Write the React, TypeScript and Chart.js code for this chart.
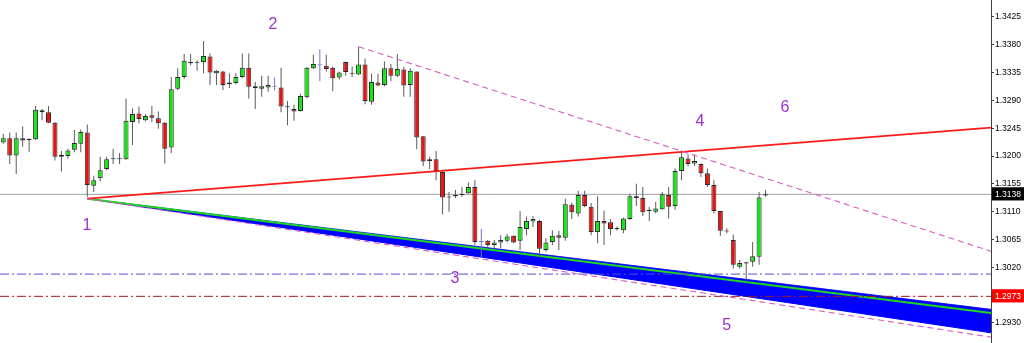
import React, { useEffect, useRef } from "react";
import { Chart, registerables } from "chart.js";

Chart.register(...registerables);

// Bar prices, oldest first
const opens = [
  1.3222, 1.3229, 1.3201, 1.3229, 1.3226, 1.3227, 1.3274, 1.3271, 1.3254, 1.3199,
  1.3200, 1.3210, 1.3220, 1.3238, 1.3152, 1.3164, 1.3179, 1.3195, 1.3195, 1.3195,
  1.3255, 1.3269, 1.3258, 1.3266, 1.3261, 1.3254, 1.3214, 1.3309, 1.3328, 1.3350,
  1.3351, 1.3352, 1.3361, 1.3334, 1.3337, 1.3316, 1.3318, 1.3328, 1.3343, 1.3313,
  1.3309, 1.3311, 1.3312, 1.3311, 1.3279, 1.3276, 1.3273, 1.3295, 1.3342, 1.3347,
  1.3346, 1.3343, 1.3327, 1.3352, 1.3333, 1.3332, 1.3348, 1.3288, 1.3319, 1.3315,
  1.3342, 1.3330, 1.3340, 1.3315, 1.3337, 1.3232, 1.3192, 1.3195, 1.3174, 1.3133,
  1.3135, 1.3137, 1.3140, 1.3150, 1.3061, 1.3063, 1.3056, 1.3060, 1.3063, 1.3071,
  1.3063, 1.3082, 1.3094, 1.3095, 1.3048, 1.3061, 1.3072, 1.3068, 1.3121, 1.3107,
  1.3137, 1.3118, 1.3077, 1.3095, 1.3093, 1.3082, 1.3080, 1.3098, 1.3135, 1.3132,
  1.3111, 1.3110, 1.3114, 1.3137, 1.3119, 1.3176, 1.3196, 1.3188, 1.3187, 1.3172,
  1.3153, 1.3111, 1.3078, 1.3064, 1.3021, 1.3026, 1.3029, 1.3037, 1.3136,
];
const highs = [
  1.3236, 1.3238, 1.3238, 1.3248, 1.3229, 1.3281, 1.3276, 1.3281, 1.3255, 1.3208,
  1.3212, 1.3242, 1.3243, 1.3251, 1.3168, 1.3199, 1.3199, 1.3212, 1.3205, 1.3293,
  1.3277, 1.3280, 1.3268, 1.3281, 1.3272, 1.3255, 1.3328, 1.3342, 1.3365, 1.3365,
  1.3355, 1.3386, 1.3366, 1.3339, 1.3338, 1.3334, 1.3334, 1.3366, 1.3366, 1.3320,
  1.3330, 1.3330, 1.3327, 1.3343, 1.3289, 1.3283, 1.3301, 1.3344, 1.3364, 1.3373,
  1.3364, 1.3345, 1.3337, 1.3353, 1.3345, 1.3377, 1.3358, 1.3333, 1.3333, 1.3353,
  1.3349, 1.3365, 1.3344, 1.3342, 1.3337, 1.3232, 1.3199, 1.3208, 1.3175, 1.3142,
  1.3145, 1.3150, 1.3157, 1.3161, 1.3082, 1.3064, 1.3064, 1.3072, 1.3074, 1.3072,
  1.3111, 1.3102, 1.3103, 1.3097, 1.3067, 1.3080, 1.3079, 1.3131, 1.3125, 1.3144,
  1.3144, 1.3124, 1.3135, 1.3112, 1.3098, 1.3086, 1.3100, 1.3139, 1.3155, 1.3150,
  1.3118, 1.3126, 1.3142, 1.3150, 1.3180, 1.3209, 1.3203, 1.3202, 1.3188, 1.3180,
  1.3161, 1.3111, 1.3083, 1.3073, 1.3032, 1.3029, 1.3061, 1.3142, 1.3145,
];
const lows = [
  1.3220, 1.3187, 1.3171, 1.3215, 1.3207, 1.3226, 1.3258, 1.3253, 1.3193, 1.3175,
  1.3196, 1.3206, 1.3206, 1.3134, 1.3142, 1.3159, 1.3177, 1.3187, 1.3187, 1.3194,
  1.3218, 1.3253, 1.3256, 1.3255, 1.3244, 1.3188, 1.3205, 1.3307, 1.3325, 1.3347,
  1.3338, 1.3334, 1.3315, 1.3315, 1.3307, 1.3310, 1.3316, 1.3326, 1.3293, 1.3276,
  1.3296, 1.3304, 1.3306, 1.3271, 1.3250, 1.3257, 1.3272, 1.3293, 1.3341, 1.3321,
  1.3337, 1.3305, 1.3324, 1.3330, 1.3328, 1.3331, 1.3284, 1.3283, 1.3313, 1.3313,
  1.3321, 1.3328, 1.3296, 1.3296, 1.3211, 1.3184, 1.3179, 1.3161, 1.3106, 1.3110,
  1.3132, 1.3134, 1.3139, 1.3056, 1.3035, 1.3051, 1.3050, 1.3051, 1.3060, 1.3059,
  1.3048, 1.3072, 1.3085, 1.3038, 1.3045, 1.3056, 1.3048, 1.3063, 1.3098, 1.3102,
  1.3117, 1.3072, 1.3059, 1.3056, 1.3072, 1.3079, 1.3075, 1.3097, 1.3119, 1.3103,
  1.3095, 1.3107, 1.3113, 1.3099, 1.3113, 1.3161, 1.3183, 1.3184, 1.3166, 1.3150,
  1.3107, 1.3071, 1.3075, 1.3018, 1.3018, 1.2996, 1.3021, 1.3024, 1.3134,
];
const closes = [
  1.3229, 1.3201, 1.3229, 1.3225, 1.3227, 1.3275, 1.3271, 1.3254, 1.3199, 1.3202,
  1.3209, 1.3221, 1.3239, 1.3153, 1.3161, 1.3177, 1.3195, 1.3196, 1.3196, 1.3257,
  1.3268, 1.3260, 1.3265, 1.3262, 1.3253, 1.3212, 1.3308, 1.3328, 1.3354, 1.3352,
  1.3352, 1.3362, 1.3335, 1.3338, 1.3315, 1.3319, 1.3328, 1.3343, 1.3312, 1.3310,
  1.3313, 1.3315, 1.3312, 1.3280, 1.3280, 1.3272, 1.3297, 1.3343, 1.3349, 1.3347,
  1.3341, 1.3326, 1.3335, 1.3336, 1.3334, 1.3348, 1.3289, 1.3320, 1.3314, 1.3342,
  1.3330, 1.3341, 1.3314, 1.3338, 1.3230, 1.3191, 1.3195, 1.3176, 1.3133, 1.3134,
  1.3137, 1.3139, 1.3150, 1.3061, 1.3061, 1.3056, 1.3060, 1.3064, 1.3070, 1.3060,
  1.3085, 1.3095, 1.3098, 1.3050, 1.3060, 1.3071, 1.3068, 1.3122, 1.3109, 1.3137,
  1.3119, 1.3077, 1.3095, 1.3091, 1.3082, 1.3083, 1.3099, 1.3135, 1.3132, 1.3109,
  1.3113, 1.3115, 1.3138, 1.3118, 1.3176, 1.3198, 1.3187, 1.3192, 1.3172, 1.3153,
  1.3111, 1.3079, 1.3079, 1.3024, 1.3027, 1.3028, 1.3038, 1.3133, 1.3138,
];

// Right-hand price scale
const priceTicks = [
  1.293, 1.2973, 1.302, 1.3065, 1.311, 1.3138, 1.3155, 1.32, 1.3245, 1.329,
  1.3335, 1.338, 1.3425,
];
const lastPrice = 1.3138;
const stopPrice = 1.2973;
const supportPrice = 1.3009;

// Visible window
const yMin = 1.28975;
const yMax = 1.34525;
const xMin = -0.51;
const xMax = 152.9;

// Wave count marks
const waveNames = ["1", "2", "3", "4", "5", "6"];
const waveBars = [12.96, 41.75, 69.9, 107.85, 112.0, 121.0];
const wavePrices = [1.3087, 1.3412, 1.3001, 1.3255, 1.2925, 1.3278];

// Trend line anchors (bar index / price)
const pivotBar = 13;
const pivotPrice = 1.3131;
const upperPivotBar = 55;
const upperPivotPrice = 1.3377;
const redLineEnd = 1.3246;
const upperDashEnd = 1.3046;
const channelTopEnd = 1.2952;
const greenLineEnd = 1.2946;
const channelBottomEnd = 1.2914;
const lowerDashEnd = 1.2907;

const BULL = "#14e614";
const BEAR = "#e81414";
const FLAT = "#7474cc";
const OUTLINE = "#262626";
const WICK = "#5a5a5a";
const FONT = '"Liberation Sans", Arial, sans-serif';

const seg = (x0: number, y0: number, x1: number, y1: number) => [
  { x: x0, y: y0 },
  { x: x1, y: y1 },
];

const waveLabelPlugin = {
  id: "waveLabels",
  afterDatasetsDraw(chart: any) {
    const { ctx, scales } = chart;
    const x = scales.x;
    const y = scales.y;
    ctx.save();
    ctx.fillStyle = "#9932cc";
    ctx.font = `16px ${FONT}`;
    ctx.textAlign = "center";
    ctx.textBaseline = "middle";
    waveNames.forEach((t, i) => {
      ctx.fillText(t, x.getPixelForValue(waveBars[i]), y.getPixelForValue(wavePrices[i]));
    });
    ctx.restore();
  },
};

export default function App() {
  const ref = useRef<HTMLCanvasElement | null>(null);

  useEffect(() => {
    if (!ref.current) return;
    const wickColors = opens.map((o, i) => (o === closes[i] ? FLAT : WICK));
    const bodyFill = opens.map((o, i) =>
      closes[i] > o ? BULL : closes[i] < o ? BEAR : FLAT
    );
    const bodyBorder = opens.map((o, i) => (o === closes[i] ? FLAT : OUTLINE));
    const isMarked = (v: number) => v === lastPrice || v === stopPrice;

    const line = (data: any[], color: string, width: number, order: number, extra: any = {}) => ({
      type: "line",
      data,
      borderColor: color,
      borderWidth: width,
      pointRadius: 0,
      fill: false,
      tension: 0,
      order,
      ...extra,
    });

    const chart = new Chart(ref.current, {
      type: "bar",
      data: {
        datasets: [
          line(seg(pivotBar, pivotPrice, xMax, channelTopEnd), "#3030ff", 1, 20) as any,
          line(seg(pivotBar, pivotPrice, xMax, channelBottomEnd), "#0000ff", 1, 19, {
            fill: "-1",
            backgroundColor: "#0000ff",
          }) as any,
          line(seg(pivotBar, pivotPrice, xMax, greenLineEnd), "#1ed81e", 2, 18) as any,
          line(seg(xMin, lastPrice, xMax, lastPrice), "#a0a0a0", 1, 16) as any,
          line(seg(xMin, supportPrice, xMax, supportPrice), "#5050d0", 1, 15, {
            borderDash: [9, 3, 2, 3],
          }) as any,
          line(seg(xMin, stopPrice, xMax, stopPrice), "#a81a1a", 1, 15, {
            borderDash: [9, 3, 2, 3],
          }) as any,
          {
            type: "bar",
            data: lows.map((l, i) => ({ x: i, y: [l, highs[i]] })),
            backgroundColor: wickColors,
            borderWidth: 0,
            barThickness: 1,
            grouped: false,
            inflateAmount: 0,
            order: 10,
          } as any,
          {
            type: "bar",
            data: opens.map((o, i) => ({ x: i, y: [o, closes[i]] })),
            backgroundColor: bodyFill,
            borderColor: bodyBorder,
            borderWidth: 1,
            borderSkipped: false,
            barThickness: 5,
            minBarLength: 1,
            grouped: false,
            inflateAmount: 0,
            order: 9,
          } as any,
          line(seg(pivotBar, pivotPrice, xMax, redLineEnd), "#ff1a1a", 1.8, 2) as any,
          line(seg(upperPivotBar, upperPivotPrice, xMax, upperDashEnd), "#d95cc2", 1.1, 1, {
            borderDash: [6, 4],
          }) as any,
          line(seg(pivotBar, pivotPrice, xMax, lowerDashEnd), "#d95cc2", 1.1, 1, {
            borderDash: [6, 4],
          }) as any,
        ],
      },
      options: {
        responsive: false,
        animation: false,
        events: [],
        devicePixelRatio: 1,
        layout: { padding: 0, autoPadding: false } as any,
        plugins: {
          legend: { display: false },
          tooltip: { enabled: false },
          title: { display: false },
        },
        scales: {
          x: {
            type: "linear",
            display: false,
            min: xMin,
            max: xMax,
            offset: false,
          },
          y: {
            type: "linear",
            position: "right",
            min: yMin,
            max: yMax,
            afterBuildTicks: (s: any) => {
              s.ticks = priceTicks.map((v) => ({ value: v }));
            },
            afterFit: (s: any) => {
              s.width = 33;
              s.paddingTop = 0;
              s.paddingBottom = 0;
            },
            grid: {
              drawOnChartArea: false,
              drawTicks: true,
              tickLength: 3,
              color: "#404040",
            },
            border: { display: true, color: "#404040", width: 1 },
            ticks: {
              autoSkip: false,
              padding: 1,
              font: { family: FONT, size: 8.5 },
              color: (c: any) => (isMarked(c.tick?.value) ? "#ffffff" : "#000000"),
              showLabelBackdrop: (c: any) => isMarked(c.tick?.value),
              backdropColor: (c: any) =>
                c.tick?.value === stopPrice ? "#ff0000" : "#000000",
              backdropPadding: { top: 2, bottom: 1, left: 3, right: 4 },
              callback: (v: any) => Number(v).toFixed(4),
            } as any,
          },
        },
      },
      plugins: [waveLabelPlugin],
    } as any);

    return () => chart.destroy();
  }, []);

  return (
    <div
      style={{
        position: "fixed",
        left: 0,
        top: 0,
        width: 1024,
        height: 343,
        background: "#ffffff",
      }}
    >
      <canvas
        ref={ref}
        width={1024}
        height={343}
        style={{ display: "block", width: 1024, height: 343 }}
      />
    </div>
  );
}
